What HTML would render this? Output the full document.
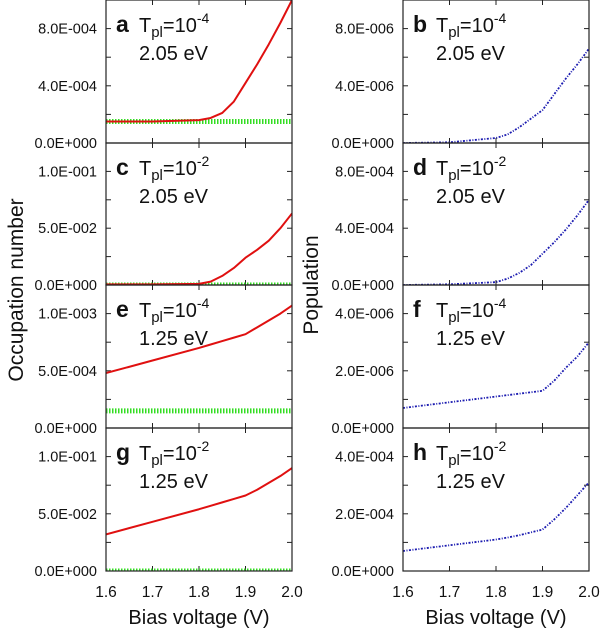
<!DOCTYPE html>
<html><head><meta charset="utf-8"><style>
body{margin:0;background:#fff;}
svg{display:block;font-family:"Liberation Sans",sans-serif;}
</style></head><body>
<svg id="chart" width="600" height="630" viewBox="0 0 600 630"></svg>
<script>
const xValues=[1.6,1.7,1.8,1.825,1.85,1.875,1.9,1.925,1.95,1.975,2.0];
const seriesA=[1.5e-4,1.5e-4,1.6e-4,1.75e-4,2.1e-4,2.9e-4,4.2e-4,5.5e-4,6.9e-4,8.4e-4,1e-3];
const seriesC=[0.0005,0.0006,0.001,0.003,0.008,0.015,0.024,0.031,0.039,0.05,0.063];
const seriesE=[4.8e-4,5.9e-4,7.0e-4,7.3e-4,7.6e-4,7.9e-4,8.2e-4,8.8e-4,9.4e-4,1.0e-3,1.07e-3];
const seriesG=[0.032,0.043,0.054,0.057,0.06,0.063,0.066,0.071,0.077,0.083,0.09];
const greenA=[1.5e-4,1.5e-4,1.5e-4,1.5e-4,1.5e-4,1.5e-4,1.5e-4,1.5e-4,1.5e-4,1.5e-4,1.5e-4];
const greenC=[0,0,0,0,0,0,0,0,0,0,0];
const greenE=[1.5e-4,1.5e-4,1.5e-4,1.5e-4,1.5e-4,1.5e-4,1.5e-4,1.5e-4,1.5e-4,1.5e-4,1.5e-4];
const greenG=[0,0,0,0,0,0,0,0,0,0,0];
const seriesB=[0,0.05e-6,0.35e-6,0.6e-6,1.1e-6,1.7e-6,2.3e-6,3.4e-6,4.5e-6,5.5e-6,6.6e-6];
const seriesD=[0,0.05e-4,0.2e-4,0.45e-4,0.85e-4,1.4e-4,2.2e-4,3.0e-4,3.9e-4,4.9e-4,6.0e-4];
const seriesF=[0.7e-6,0.9e-6,1.1e-6,1.15e-6,1.2e-6,1.25e-6,1.3e-6,1.65e-6,2.1e-6,2.5e-6,3.0e-6];
const seriesH=[0.7e-4,0.9e-4,1.1e-4,1.17e-4,1.25e-4,1.35e-4,1.45e-4,1.8e-4,2.2e-4,2.65e-4,3.1e-4];
const ticksA=["0.0E+000","4.0E-004","8.0E-004"];const tickValsA=[0,4e-4,8e-4];
const ticksC=["0.0E+000","5.0E-002","1.0E-001"];const tickValsC=[0,0.05,0.1];
const ticksE=["0.0E+000","5.0E-004","1.0E-003"];const tickValsE=[0,5e-4,1e-3];
const ticksB=["0.0E+000","4.0E-006","8.0E-006"];const tickValsB=[0,4e-6,8e-6];
const ticksD=["0.0E+000","4.0E-004","8.0E-004"];const tickValsD=[0,4e-4,8e-4];
const ticksF=["0.0E+000","2.0E-006","4.0E-006"];const tickValsF=[0,2e-6,4e-6];
const ticksH=["0.0E+000","2.0E-004","4.0E-004"];const tickValsH=[0,2e-4,4e-4];
const xTickLabels=["1.6","1.7","1.8","1.9","2.0"];const xTickVals=[1.6,1.7,1.8,1.9,2.0];

const NS="http://www.w3.org/2000/svg";
const svg=document.getElementById('chart');
function mk(tag,attrs,parent){const e=document.createElementNS(NS,tag);for(const k in attrs)e.setAttribute(k,attrs[k]);(parent||svg).appendChild(e);return e;}
const panels=[
 {id:'a',x0:106,x1:292,y0:0,y1:143,max:1e-3,minor:2e-4,tl:ticksA,tv:tickValsA,s:seriesA,g:greenA,exp:'-4',ev:'2.05 eV'},
 {id:'c',x0:106,x1:292,y0:143,y1:285,max:0.125,minor:0.025,tl:ticksC,tv:tickValsC,s:seriesC,g:greenC,exp:'-2',ev:'2.05 eV'},
 {id:'e',x0:106,x1:292,y0:285,y1:428,max:1.25e-3,minor:2.5e-4,tl:ticksE,tv:tickValsE,s:seriesE,g:greenE,exp:'-4',ev:'1.25 eV'},
 {id:'g',x0:106,x1:292,y0:428,y1:571,max:0.125,minor:0.025,tl:ticksC,tv:tickValsC,s:seriesG,g:greenG,exp:'-2',ev:'1.25 eV'},
 {id:'b',x0:403,x1:589,y0:0,y1:143,max:1e-5,minor:2e-6,tl:ticksB,tv:tickValsB,s:seriesB,exp:'-4',ev:'2.05 eV',blue:true},
 {id:'d',x0:403,x1:589,y0:143,y1:285,max:1e-3,minor:2e-4,tl:ticksD,tv:tickValsD,s:seriesD,exp:'-2',ev:'2.05 eV',blue:true},
 {id:'f',x0:403,x1:589,y0:285,y1:428,max:5e-6,minor:1e-6,tl:ticksF,tv:tickValsF,s:seriesF,exp:'-4',ev:'1.25 eV',blue:true},
 {id:'h',x0:403,x1:589,y0:428,y1:571,max:5e-4,minor:1e-4,tl:ticksH,tv:tickValsH,s:seriesH,exp:'-2',ev:'1.25 eV',blue:true},
];
panels.forEach(p=>{
 const g=mk('g',{});
 
 
 const sx=v=>p.x0+(v-1.6)/0.4*(p.x1-p.x0);
 const sy=v=>p.y1-v/p.max*(p.y1-p.y0);
 const clipId='clip'+p.id;
 const cp=mk('clipPath',{id:clipId},g);mk('rect',{x:p.x0,y:p.y0-2,width:p.x1-p.x0,height:p.y1-p.y0+2},cp);
 for(let v=p.minor;v<p.max-1e-12;v+=p.minor){
  mk('line',{x1:p.x0,x2:p.x0+5,y1:sy(v),y2:sy(v),stroke:'#222','stroke-width':1},g);
  mk('line',{x1:p.x1,x2:p.x1-5,y1:sy(v),y2:sy(v),stroke:'#222','stroke-width':1},g);
 }
 xTickVals.forEach(v=>{
  mk('line',{x1:sx(v),x2:sx(v),y1:p.y1,y2:p.y1-5,stroke:'#222','stroke-width':1},g);
  mk('line',{x1:sx(v),x2:sx(v),y1:p.y0,y2:p.y0+5,stroke:'#222','stroke-width':1},g);
 });
 p.tv.forEach((v,i)=>{
  const t=mk('text',{x:p.x0-9,y:sy(v)+5,'text-anchor':'end','font-size':'14.5',fill:'#111'},g);
  t.textContent=p.tl[i];
  
  
 });
 const cg=mk('g',{'clip-path':'url(#'+clipId+')'},g);
 if(p.g){
  const gl=mk('polyline',{points:xValues.map((x,i)=>sx(x)+','+sy(p.g[i])).join(' '),fill:'none',stroke:'#33dd22','stroke-width':5,'stroke-dasharray':'1.5 1.5'},cg);
  
  
 }
 const l=mk('polyline',{points:xValues.map((x,i)=>sx(x)+','+sy(p.s[i])).join(' '),fill:'none',stroke:p.blue?'#1a1ab0':'#e01010','stroke-width':p.blue?1.8:2,'stroke-linejoin':'round'},cg);
 if(p.blue)l.setAttribute('stroke-dasharray','2 1.5 1 1.5');
 
 
 mk('rect',{x:p.x0,y:p.y0,width:p.x1-p.x0,height:p.y1-p.y0,fill:'none',stroke:'#222','stroke-width':1.2},g);
 const lt=mk('text',{x:p.x0+10,y:p.y0+32,'font-size':'23','font-weight':'bold',fill:'#111'},g);
 lt.textContent=p.id;
 
 
 const tt=mk('text',{x:p.x0+33,y:p.y0+32,'font-size':'20',fill:'#111'},g);
 
 
 tt.innerHTML='T<tspan font-size="15" dy="5">pl</tspan><tspan dy="-5">=10</tspan><tspan font-size="14" dy="-9">'+p.exp+'</tspan>';
 const et=mk('text',{x:p.x0+33,y:p.y0+60,'font-size':'20',fill:'#111'},g);
 et.textContent=p.ev;
 
 
});
[[106,292],[403,589]].forEach(([a,b])=>{
 xTickVals.forEach((v,i)=>{
  const t=mk('text',{x:a+(v-1.6)/0.4*(b-a),y:597,'text-anchor':'middle','font-size':'15.5',fill:'#111'});
  t.textContent=xTickLabels[i];
  
  
 });
 const xt=mk('text',{x:(a+b)/2,y:624,'text-anchor':'middle','font-size':'20',fill:'#111'});
 xt.textContent='Bias voltage (V)';
 
 
});
const yl=mk('text',{x:0,y:0,transform:'translate(23,290) rotate(-90)','text-anchor':'middle','font-size':'21',fill:'#111'});
yl.textContent='Occupation number';


const yr=mk('text',{x:0,y:0,transform:'translate(318,285) rotate(-90)','text-anchor':'middle','font-size':'21',fill:'#111'});
yr.textContent='Population';


</script>
</body></html>
